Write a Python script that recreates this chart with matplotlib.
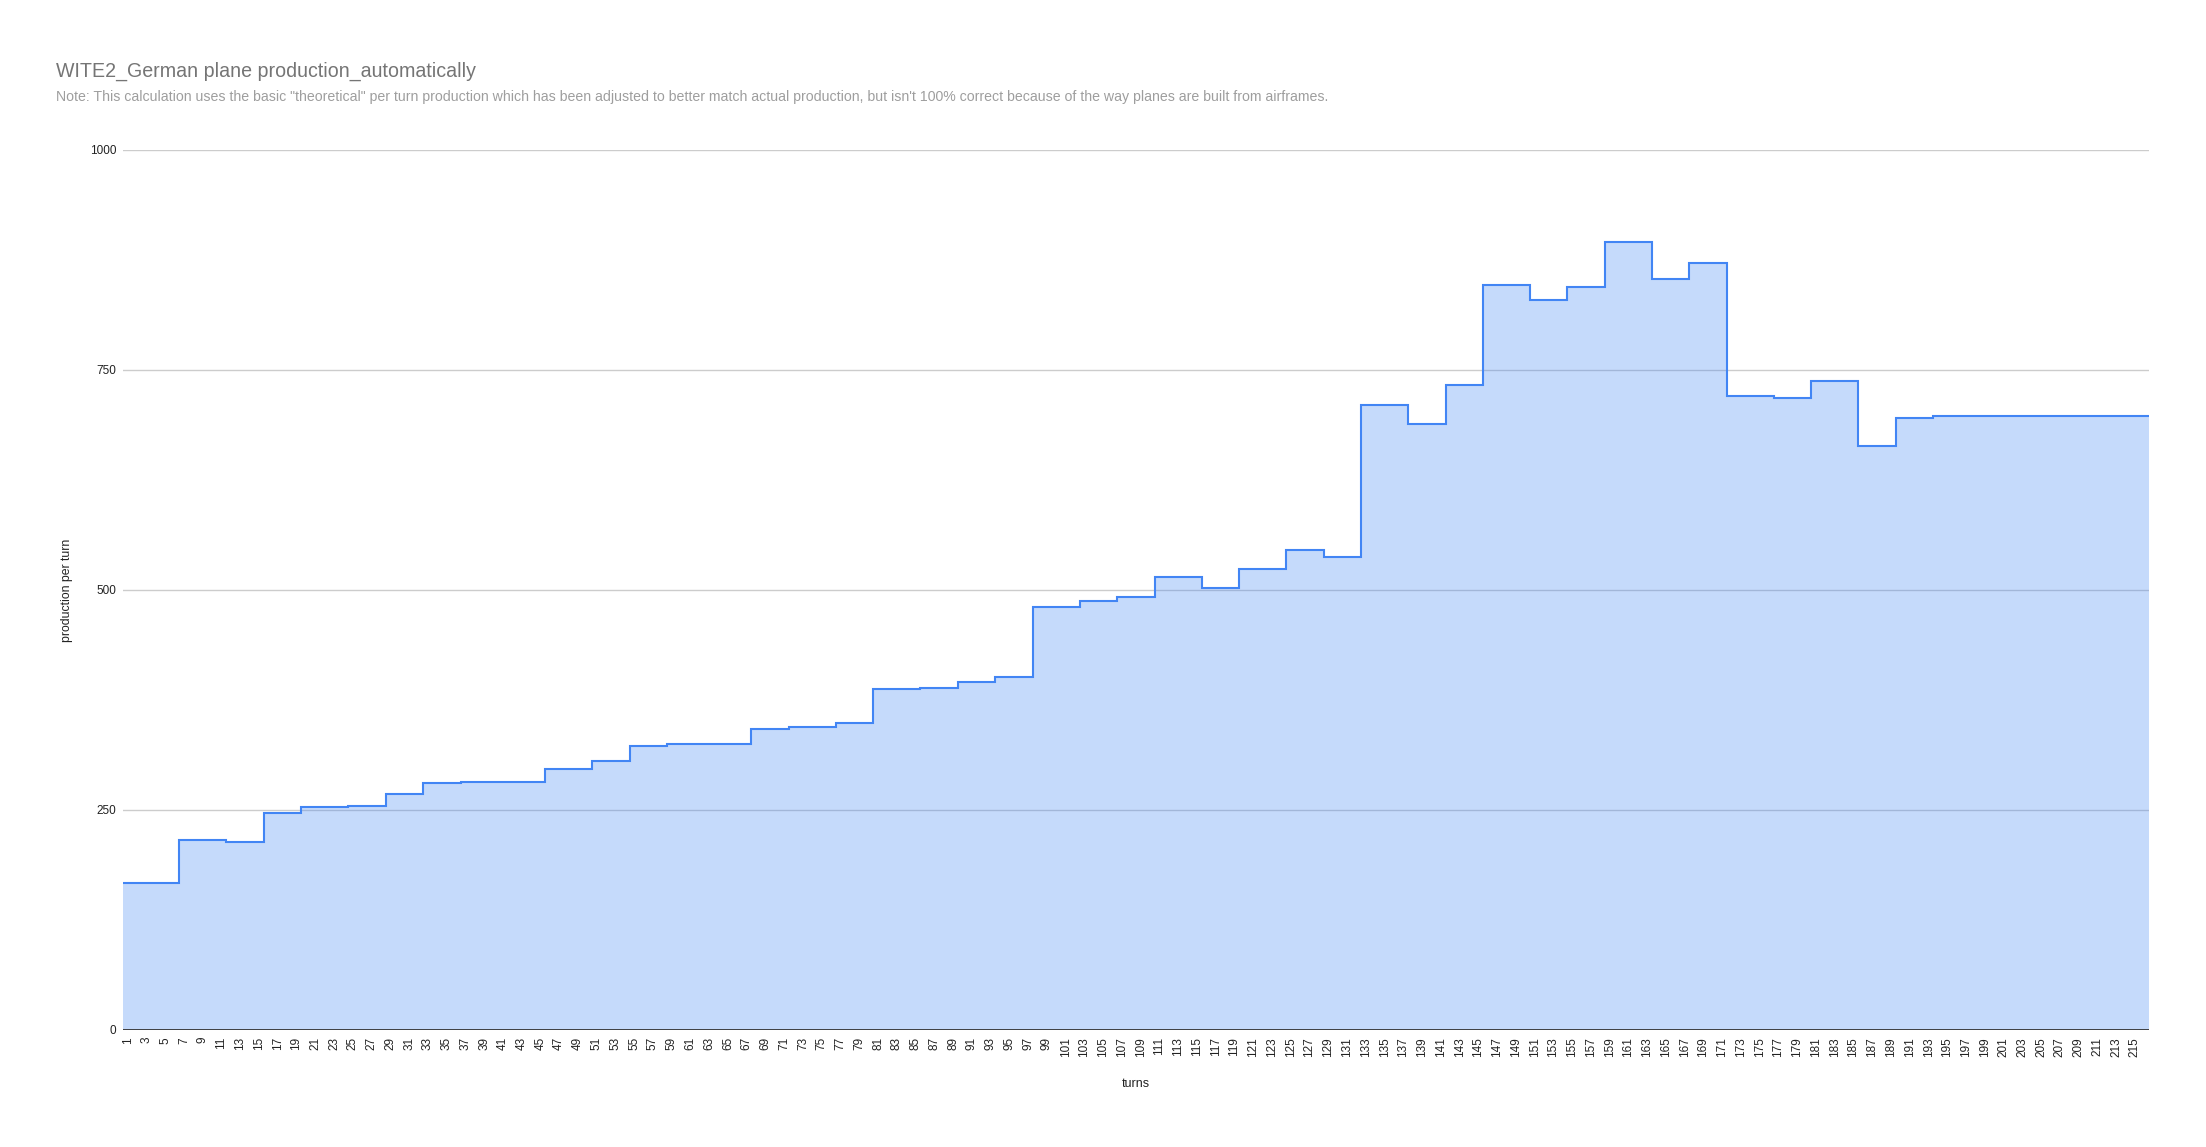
import numpy as np
import matplotlib
matplotlib.use("Agg")
import matplotlib.pyplot as plt

plt.rcParams['font.family'] = ['Liberation Sans', 'DejaVu Sans']

title = "WITE2_German plane production_automatically"
subtitle = ('Note: This calculation uses the basic "theoretical" per turn production which has been adjusted '
            'to better match actual production, but isn\'t 100% correct because of the way planes are built from airframes.')
x_label = "turns"
y_label = "production per turn"

turns = list(range(1, 217))

production = [
    167, 167, 167, 167, 167, 167,
    216, 216, 216, 216, 216,
    214, 214, 214, 214,
    247, 247, 247, 247,
    253, 253, 253, 253, 253,
    255, 255, 255, 255,
    268, 268, 268, 268,
    281, 281, 281, 281,
    282, 282, 282, 282, 282, 282, 282, 282, 282,
    297, 297, 297, 297, 297,
    306, 306, 306, 306,
    323, 323, 323, 323,
    325, 325, 325, 325, 325, 325, 325, 325, 325,
    342, 342, 342, 342,
    344, 344, 344, 344, 344,
    349, 349, 349, 349,
    387, 387, 387, 387, 387,
    389, 389, 389, 389,
    395, 395, 395, 395,
    401, 401, 401, 401,
    481, 481, 481, 481, 481,
    488, 488, 488, 488,
    492, 492, 492, 492,
    515, 515, 515, 515, 515,
    502, 502, 502, 502,
    524, 524, 524, 524, 524,
    546, 546, 546, 546,
    537, 537, 537, 537,
    710, 710, 710, 710, 710,
    689, 689, 689, 689,
    733, 733, 733, 733,
    847, 847, 847, 847, 847,
    830, 830, 830, 830,
    844, 844, 844, 844,
    895, 895, 895, 895, 895,
    853, 853, 853, 853,
    872, 872, 872, 872,
    720, 720, 720, 720, 720,
    718, 718, 718, 718,
    738, 738, 738, 738, 738,
    664, 664, 664, 664,
    696, 696, 696, 696,
    698, 698, 698, 698, 698, 698, 698, 698, 698, 698, 698, 698,
    698, 698, 698, 698, 698, 698, 698, 698, 698, 698, 698,
]

y_ticks = [0, 250, 500, 750, 1000]

W, H = 2206, 1147
fig = plt.figure(figsize=(W / 100, H / 100), dpi=100)
ax = fig.add_axes([123 / W, 1 - 1030 / H, 2026 / W, 880 / H])

n = len(turns)
edges = np.arange(n + 1)
vals = np.array(production, dtype=float)

# gridlines under the area
for yt in y_ticks[1:]:
    ax.axhline(yt, color='#cccccc', lw=1.0, zorder=0)

line_color = '#4285f4'
ax.stairs(vals, edges, fill=True, color=line_color, alpha=0.3, lw=0, zorder=1)
ax.stairs(vals, edges, baseline=None, color=line_color, lw=1.5, zorder=3)
ax.axhline(0, color='#333333', lw=1.3, zorder=4)

ax.set_xlim(0, n)
ax.set_ylim(0, 1000)

tick_pos = [i + 0.5 for i in range(0, n, 2)]
tick_lab = [str(turns[i]) for i in range(0, n, 2)]
ax.set_xticks(tick_pos)
ax.set_xticklabels(tick_lab, rotation=90, fontsize=8.5, color='#222222')
ax.set_yticks(y_ticks)
ax.set_yticklabels([str(v) for v in y_ticks], fontsize=8.5, color='#222222')
ax.tick_params(axis='both', length=0)
ax.tick_params(axis='x', pad=5)
ax.tick_params(axis='y', pad=5)

for s in ax.spines.values():
    s.set_visible(False)

ax.set_xlabel(x_label, fontsize=9, color='#222222')
ax.xaxis.set_label_coords(0.5, -(1084 - 1030) / 880)
ax.set_ylabel(y_label, fontsize=8.8, color='#222222')
ax.yaxis.set_label_coords((67 - 123) / 2026, 0.5)
ax.xaxis.label.set_va('center')
ax.yaxis.label.set_va('center')

fig.text(56 / W, 1 - 77 / H, title, fontsize=14.1, color='#757575', va='baseline', ha='left')
fig.text(56 / W, 1 - 101 / H, subtitle, fontsize=10.2, color='#9e9e9e', va='baseline', ha='left')

fig.savefig('out.png', dpi=100, facecolor='white')
